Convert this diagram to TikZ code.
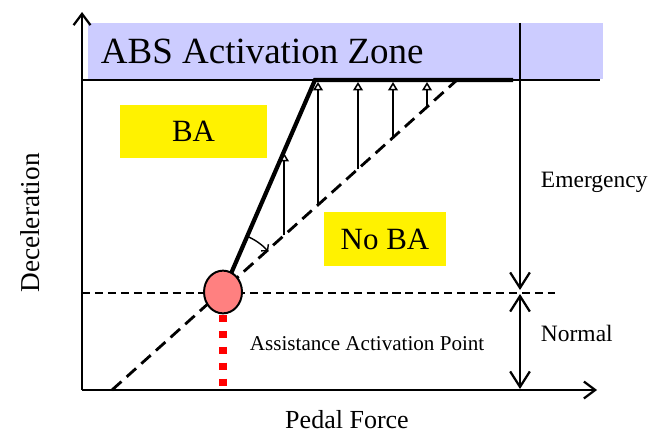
\documentclass[tikz,border=0pt]{standalone}
\usepackage{fontspec}
\setmainfont{Liberation Serif}
\usetikzlibrary{arrows.meta}

\definecolor{zoneblue}{RGB}{204,204,255}
\definecolor{pointred}{RGB}{255,128,128}
\tikzset{
  axis/.style={line width=1.6pt,-{Straight Barb[length=8pt,width=12pt,line width=1.6pt]}},
  rangearrow/.style={line width=1.6pt},
  vec/.style={line width=1.3pt,-{Triangle[open,length=6pt,width=7pt,line width=1.1pt]}},
  labelbox/.style={fill=yellow,inner sep=0pt,font=\fontsize{22}{26}\selectfont}
}

\begin{document}
\begin{tikzpicture}[x=0.025cm,y=-0.025cm]
\useasboundingbox (0,0) rectangle (648,433);
\coordinate (O) at (82,390);
\coordinate (P) at (223,292);
\coordinate (K) at (315,80);
\coordinate (D0) at (112,390);
\coordinate (D1) at (457,80);
% ABS zone
\fill[zoneblue] (88,23) rectangle (603,79);
\node[anchor=base west,font=\fontsize{26.3}{31}\selectfont] (zone) at (96,64) {ABS Activation Zone};
\draw[line width=1.3pt] (82,80) -- (600,80);
% axes
\draw[axis] (O) -- (82,12);
\draw[axis] (O) -- (597,390);
\node[rotate=90,font=\fontsize{19.4}{23}\selectfont] (ylab) at (30,223) {Deceleration};
\node[font=\fontsize{18.5}{22}\selectfont] (xlab) at (347,420) {Pedal Force};
% emergency / normal ranges
\draw[rangearrow,-{Straight Barb[length=11pt,width=14pt,line width=1.6pt]}] (520,23) -- (520,290);
\draw[rangearrow,{Straight Barb[length=11pt,width=14pt,line width=1.6pt]}-{Straight Barb[length=11pt,width=14pt,line width=1.6pt]}] (520,294) -- (520,389);
\node[anchor=west,font=\fontsize{16.7}{20}\selectfont] (emg) at (536,182) {Emergency};
\node[anchor=west,font=\fontsize{16.7}{20}\selectfont] (nrm) at (536,333) {Normal};
\draw[line width=1.5pt,dash pattern=on 5.7pt off 3.5pt] (82,293) -- (555,293);
% characteristic lines
\draw[line width=2pt,dash pattern=on 9pt off 5pt] (D0) -- (D1);
\draw[line width=3pt] (P) -- (K) -- (513,80);
\foreach \xx/\yy in {284/153, 318/82, 358/82, 393/82, 427/82} {
  \draw[vec] (\xx,{390-(\xx-112)*0.8986}) -- (\xx,\yy);
}
\draw[line width=1pt,-{Straight Barb[length=3pt,width=7pt,line width=1pt]}] ([shift={(66.5:43.2pt)}]P) arc[start angle=66.5,end angle=42,radius=43.2pt];
% activation point
\draw[red,line width=5pt,dash pattern=on 5.3pt off 6pt] (223,315) -- (223,390);
\draw[line width=1.4pt,fill=pointred] (P) ellipse[x radius=13.5pt,y radius=15.2pt];
\node[anchor=west,font=\fontsize{15}{18}\selectfont] (act) at (245,344) {Assistance Activation Point};
% BA regions
\node[labelbox,minimum width=104pt,minimum height=37.6pt] (ba) at (193.5,131.5) {BA};
\node[labelbox,minimum width=86.5pt,minimum height=38.3pt] (noba) at (385,239) {No BA};
\end{tikzpicture}
\end{document}
